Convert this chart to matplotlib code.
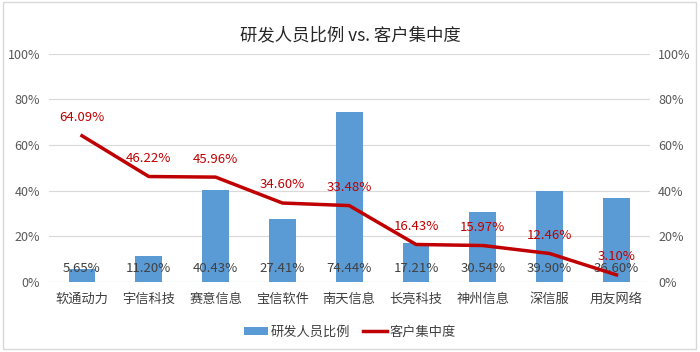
import matplotlib.pyplot as plt
import numpy as np
from matplotlib.patches import Rectangle

plt.rcParams['font.family'] = ['Noto Sans CJK SC', 'DejaVu Sans']

companies = ["软通动力", "宇信科技", "赛意信息", "宝信软件", "南天信息",
             "长亮科技", "神州信息", "深信服", "用友网络"]
rd_ratio = [5.65, 11.20, 40.43, 27.41, 74.44, 17.21, 30.54, 39.90, 36.60]
client_conc = [64.09, 46.22, 45.96, 34.60, 33.48, 16.43, 15.97, 12.46, 3.10]

bar_color = "#5B9BD5"
line_color = "#C00000"

fig = plt.figure(figsize=(7, 3.52), dpi=100)
ax = fig.add_axes([0.0694, 0.199, 0.859, 0.648])
x = np.arange(len(companies))

ax.bar(x, rd_ratio, width=0.4, color=bar_color, label="研发人员比例", zorder=2)
ax2 = ax.twinx()
ax2.plot(x, client_conc, color=line_color, lw=2.5, label="客户集中度", zorder=3)

for a in (ax, ax2):
    a.set_ylim(0, 100)
    a.set_yticks(range(0, 101, 20))
    a.set_yticklabels([f"{v}%" for v in range(0, 101, 20)])
    a.tick_params(axis="y", length=0, labelsize=9, labelcolor="#595959", pad=6)
    for s in a.spines.values():
        s.set_visible(False)
ax.set_xlim(-0.5, len(companies) - 0.5)
ax.set_xticks(x)
ax.set_xticklabels(companies)
ax.tick_params(axis="x", length=0, labelsize=9.5, labelcolor="#404040", pad=8)
ax.grid(axis="y", color="#D9D9D9", lw=0.8, zorder=0)
ax.set_axisbelow(True)
ax.axhline(0, color="#D9D9D9", lw=0.8, zorder=1)

for xi, v in zip(x, rd_ratio):
    ax.text(xi, 6.1, f"{v:.2f}%", ha="center", va="center", fontsize=9.5,
            color="#404040", zorder=4)
for xi, v in zip(x, client_conc):
    ax2.annotate(f"{v:.2f}%", (xi, v), xytext=(0, 13), textcoords="offset points",
                 ha="center", va="center", fontsize=9.5, color=line_color)

fig.suptitle("研发人员比例 vs. 客户集中度", y=0.925, fontsize=12.5, color="#262626")

h1, l1 = ax.get_legend_handles_labels()
h2, l2 = ax2.get_legend_handles_labels()
fig.legend(h1 + h2, l1 + l2, loc="center", bbox_to_anchor=(0.5, 0.057), ncol=2,
           frameon=False, fontsize=9.5, handlelength=1.8, handleheight=0.55,
           columnspacing=1.0, handletextpad=0.2, labelcolor="#404040")

fig.patches.append(Rectangle((0.004, 0.008), 0.99, 0.985, transform=fig.transFigure,
                             fill=False, edgecolor="#D9D9D9", lw=1))

fig.savefig("out.png", dpi=100)
